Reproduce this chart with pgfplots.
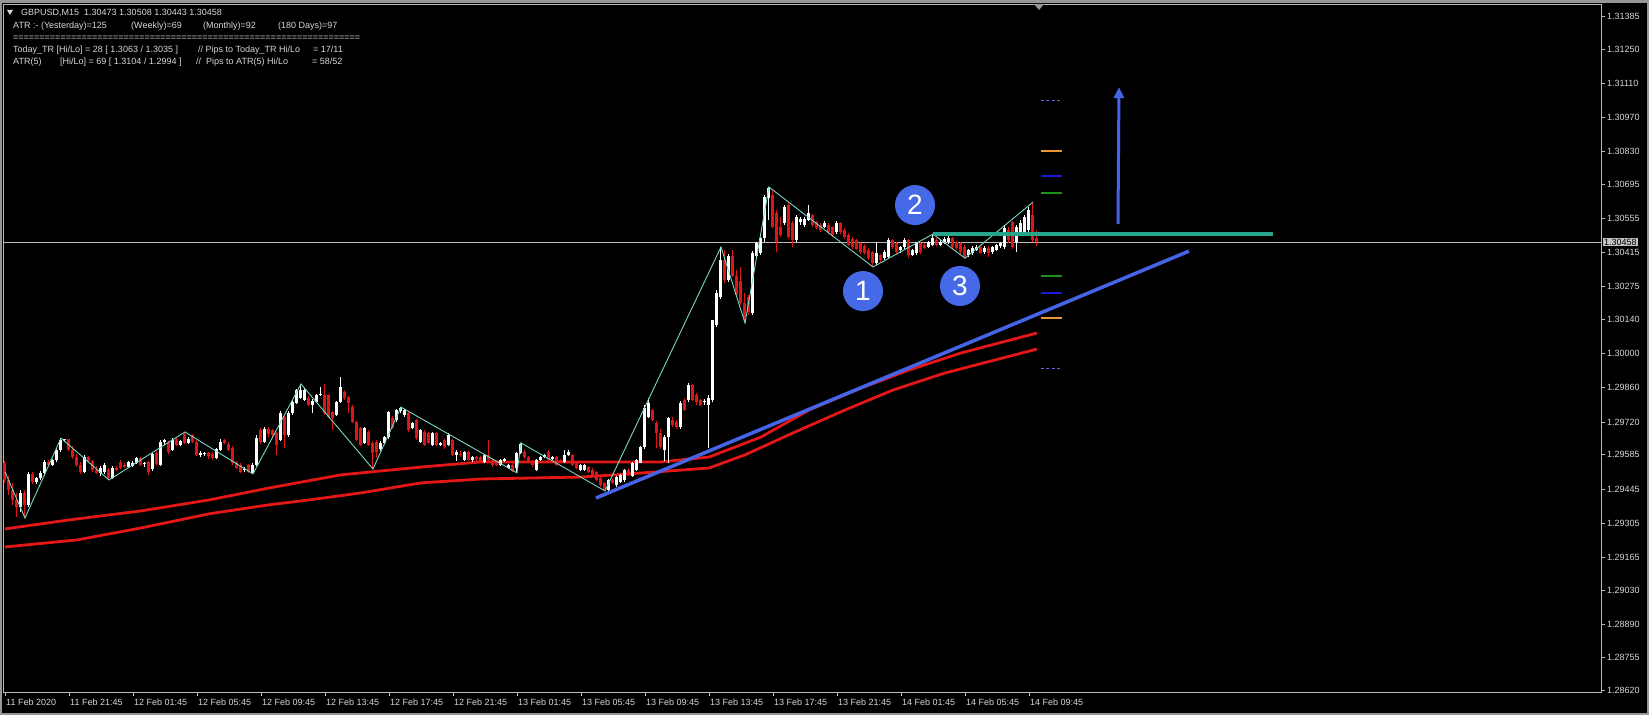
\documentclass[border=0pt]{standalone}
\usepackage{fontspec}
\setmainfont{Liberation Sans}
\usepackage{pgfplots}
\pgfplotsset{compat=1.18}
\usepackage{pgfplotstable}
\usetikzlibrary{arrows.meta}
\definecolor{bearred}{RGB}{222,22,22}
\definecolor{mared}{RGB}{228,22,22}
\definecolor{zz}{RGB}{120,215,195}
\definecolor{framec}{RGB}{185,185,185}
\definecolor{txt}{RGB}{215,215,215}
\definecolor{tlblue}{RGB}{70,100,232}
\definecolor{circblue}{RGB}{70,105,232}
\definecolor{tealc}{RGB}{38,165,140}
\definecolor{lvlorange}{RGB}{235,150,50}
\definecolor{lvlblue}{RGB}{25,25,215}
\definecolor{lvlgreen}{RGB}{30,145,30}
\definecolor{lvlpurple}{RGB}{125,90,225}
\definecolor{pricebox}{RGB}{195,195,195}
\definecolor{chrome}{RGB}{150,150,150}

\pgfplotstableread{
i o h l c
0 1.29552 1.29560 1.29470 1.29480
1 1.29480 1.29500 1.29420 1.29440
2 1.29440 1.29470 1.29380 1.29400
3 1.29400 1.29430 1.29330 1.29370
4 1.29370 1.29440 1.29350 1.29430
5 1.29430 1.29440 1.29326 1.29380
6 1.29380 1.29515 1.29370 1.29505
7 1.29505 1.29515 1.29465 1.29474
8 1.29474 1.29495 1.29465 1.29490
9 1.29490 1.29520 1.29480 1.29511
10 1.29511 1.29565 1.29500 1.29556
11 1.29556 1.29565 1.29535 1.29545
12 1.29545 1.29570 1.29540 1.29565
13 1.29565 1.29612 1.29555 1.29605
14 1.29605 1.29654 1.29598 1.29648
15 1.29645 1.29652 1.29636 1.29649
16 1.29649 1.29650 1.29600 1.29605
17 1.29605 1.29620 1.29570 1.29578
18 1.29578 1.29590 1.29535 1.29544
19 1.29544 1.29555 1.29505 1.29515
20 1.29515 1.29585 1.29510 1.29576
21 1.29576 1.29580 1.29550 1.29558
22 1.29558 1.29565 1.29515 1.29523
23 1.29523 1.29540 1.29505 1.29512
24 1.29512 1.29540 1.29500 1.29530
25 1.29515 1.29550 1.29505 1.29544
26 1.29523 1.29530 1.29482 1.29490
27 1.29490 1.29538 1.29486 1.29531
28 1.29531 1.29540 1.29518 1.29522
29 1.29556 1.29565 1.29525 1.29531
30 1.29544 1.29550 1.29530 1.29535
31 1.29535 1.29560 1.29530 1.29556
32 1.29540 1.29560 1.29535 1.29552
33 1.29552 1.29578 1.29548 1.29572
34 1.29572 1.29575 1.29540 1.29544
35 1.29546 1.29556 1.29536 1.29550
36 1.29556 1.29560 1.29503 1.29515
37 1.29527 1.29595 1.29520 1.29589
38 1.29593 1.29600 1.29540 1.29548
39 1.29544 1.29645 1.29540 1.29638
40 1.29638 1.29650 1.29625 1.29644
41 1.29634 1.29640 1.29590 1.29597
42 1.29605 1.29655 1.29600 1.29646
43 1.29650 1.29660 1.29620 1.29626
44 1.29626 1.29645 1.29620 1.29640
45 1.29670 1.29679 1.29628 1.29634
46 1.29634 1.29660 1.29628 1.29650
47 1.29667 1.29672 1.29632 1.29638
48 1.29638 1.29645 1.29580 1.29585
49 1.29585 1.29600 1.29575 1.29592
50 1.29589 1.29598 1.29580 1.29593
51 1.29591 1.29595 1.29570 1.29580
52 1.29589 1.29596 1.29565 1.29572
53 1.29572 1.29615 1.29568 1.29609
54 1.29605 1.29650 1.29600 1.29638
55 1.29646 1.29650 1.29628 1.29635
56 1.29630 1.29638 1.29600 1.29605
57 1.29613 1.29620 1.29545 1.29552
58 1.29556 1.29560 1.29525 1.29531
59 1.29544 1.29550 1.29510 1.29515
60 1.29522 1.29535 1.29515 1.29528
61 1.29544 1.29548 1.29512 1.29515
62 1.29511 1.29550 1.29507 1.29544
63 1.29544 1.29665 1.29540 1.29654
64 1.29687 1.29695 1.29630 1.29638
65 1.29638 1.29700 1.29635 1.29690
66 1.29690 1.29700 1.29660 1.29670
67 1.29687 1.29692 1.29660 1.29667
68 1.29675 1.29680 1.29585 1.29626
69 1.29646 1.29765 1.29640 1.29757
70 1.29740 1.29750 1.29613 1.29667
71 1.29667 1.29765 1.29660 1.29757
72 1.29757 1.29810 1.29750 1.29802
73 1.29798 1.29855 1.29795 1.29851
74 1.29820 1.29876 1.29815 1.29851
75 1.29810 1.29860 1.29805 1.29851
76 1.29818 1.29825 1.29785 1.29790
77 1.29790 1.29815 1.29757 1.29807
78 1.29802 1.29835 1.29798 1.29831
79 1.29831 1.29864 1.29825 1.29835
80 1.29831 1.29876 1.29750 1.29757
81 1.29831 1.29835 1.29735 1.29740
82 1.29761 1.29765 1.29687 1.29737
83 1.29749 1.29805 1.29745 1.29802
84 1.29802 1.29905 1.29798 1.29864
85 1.29843 1.29850 1.29812 1.29818
86 1.29822 1.29828 1.29757 1.29798
87 1.29781 1.29790 1.29715 1.29720
88 1.29720 1.29725 1.29640 1.29646
89 1.29695 1.29700 1.29620 1.29626
90 1.29634 1.29700 1.29630 1.29695
91 1.29679 1.29685 1.29620 1.29626
92 1.29634 1.29640 1.29527 1.29593
93 1.29638 1.29645 1.29572 1.29597
94 1.29610 1.29640 1.29600 1.29634
95 1.29634 1.29662 1.29625 1.29658
96 1.29658 1.29765 1.29650 1.29761
97 1.29736 1.29745 1.29690 1.29695
98 1.29728 1.29772 1.29720 1.29769
99 1.29765 1.29781 1.29755 1.29778
100 1.29749 1.29775 1.29740 1.29769
101 1.29757 1.29765 1.29680 1.29687
102 1.29695 1.29720 1.29690 1.29716
103 1.29728 1.29732 1.29646 1.29654
104 1.29638 1.29690 1.29632 1.29687
105 1.29679 1.29685 1.29620 1.29626
106 1.29675 1.29680 1.29630 1.29634
107 1.29626 1.29680 1.29620 1.29675
108 1.29675 1.29680 1.29622 1.29626
109 1.29626 1.29636 1.29620 1.29632
110 1.29646 1.29650 1.29610 1.29618
111 1.29626 1.29675 1.29620 1.29667
112 1.29646 1.29652 1.29580 1.29585
113 1.29585 1.29605 1.29560 1.29597
114 1.29590 1.29600 1.29575 1.29585
115 1.29564 1.29600 1.29558 1.29597
116 1.29597 1.29600 1.29560 1.29564
117 1.29564 1.29580 1.29555 1.29575
118 1.29575 1.29582 1.29560 1.29568
119 1.29576 1.29580 1.29550 1.29556
120 1.29556 1.29590 1.29552 1.29585
121 1.29585 1.29646 1.29560 1.29564
122 1.29564 1.29570 1.29535 1.29544
123 1.29552 1.29560 1.29540 1.29544
124 1.29544 1.29570 1.29540 1.29564
125 1.29560 1.29572 1.29555 1.29568
126 1.29531 1.29548 1.29525 1.29544
127 1.29544 1.29550 1.29515 1.29519
128 1.29531 1.29597 1.29511 1.29593
129 1.29593 1.29634 1.29590 1.29630
130 1.29597 1.29605 1.29570 1.29576
131 1.29576 1.29580 1.29555 1.29560
132 1.29560 1.29565 1.29535 1.29544
133 1.29523 1.29570 1.29520 1.29564
134 1.29564 1.29580 1.29560 1.29576
135 1.29576 1.29590 1.29572 1.29585
136 1.29597 1.29605 1.29560 1.29564
137 1.29568 1.29580 1.29562 1.29576
138 1.29576 1.29580 1.29540 1.29544
139 1.29564 1.29570 1.29555 1.29560
140 1.29556 1.29605 1.29550 1.29585
141 1.29585 1.29605 1.29580 1.29597
142 1.29585 1.29590 1.29540 1.29544
143 1.29556 1.29560 1.29525 1.29531
144 1.29523 1.29548 1.29518 1.29544
145 1.29523 1.29548 1.29520 1.29544
146 1.29535 1.29540 1.29510 1.29515
147 1.29523 1.29530 1.29500 1.29503
148 1.29515 1.29520 1.29478 1.29482
149 1.29490 1.29495 1.29455 1.29462
150 1.29470 1.29475 1.29437 1.29441
151 1.29441 1.29485 1.29437 1.29482
152 1.29482 1.29490 1.29465 1.29470
153 1.29460 1.29500 1.29455 1.29495
154 1.29475 1.29505 1.29470 1.29503
155 1.29480 1.29525 1.29474 1.29523
156 1.29523 1.29530 1.29500 1.29510
157 1.29500 1.29556 1.29495 1.29552
158 1.29523 1.29570 1.29520 1.29564
159 1.29552 1.29620 1.29550 1.29617
160 1.29617 1.29790 1.29610 1.29777
161 1.29740 1.29818 1.29735 1.29798
162 1.29769 1.29775 1.29725 1.29728
163 1.29716 1.29725 1.29613 1.29675
164 1.29675 1.29690 1.29610 1.29617
165 1.29605 1.29665 1.29560 1.29658
166 1.29658 1.29740 1.29552 1.29736
167 1.29728 1.29740 1.29700 1.29708
168 1.29720 1.29730 1.29690 1.29700
169 1.29700 1.29805 1.29690 1.29798
170 1.29810 1.29820 1.29765 1.29769
171 1.29810 1.29880 1.29800 1.29872
172 1.29872 1.29876 1.29805 1.29810
173 1.29830 1.29840 1.29790 1.29800
174 1.29810 1.29815 1.29785 1.29790
175 1.29800 1.29815 1.29790 1.29805
176 1.29790 1.29830 1.29613 1.29820
177 1.29810 1.30140 1.29800 1.30138
178 1.30118 1.30260 1.30110 1.30249
179 1.30233 1.30438 1.30225 1.30384
180 1.30384 1.30425 1.30290 1.30302
181 1.30302 1.30410 1.30295 1.30400
182 1.30400 1.30425 1.30315 1.30320
183 1.30320 1.30345 1.30235 1.30241
184 1.30300 1.30356 1.30200 1.30208
185 1.30208 1.30249 1.30126 1.30151
186 1.30233 1.30240 1.30160 1.30171
187 1.30167 1.30420 1.30160 1.30413
188 1.30400 1.30460 1.30390 1.30454
189 1.30413 1.30480 1.30405 1.30475
190 1.30475 1.30650 1.30460 1.30643
191 1.30640 1.30684 1.30549 1.30680
192 1.30651 1.30670 1.30515 1.30520
193 1.30577 1.30590 1.30417 1.30458
194 1.30520 1.30560 1.30480 1.30487
195 1.30536 1.30610 1.30530 1.30602
196 1.30610 1.30620 1.30470 1.30479
197 1.30536 1.30545 1.30438 1.30466
198 1.30466 1.30570 1.30460 1.30561
199 1.30540 1.30560 1.30530 1.30551
200 1.30528 1.30560 1.30520 1.30553
201 1.30549 1.30610 1.30545 1.30577
202 1.30569 1.30575 1.30520 1.30528
203 1.30540 1.30545 1.30510 1.30516
204 1.30528 1.30535 1.30500 1.30508
205 1.30520 1.30545 1.30515 1.30536
206 1.30528 1.30535 1.30490 1.30499
207 1.30520 1.30525 1.30480 1.30487
208 1.30499 1.30545 1.30490 1.30536
209 1.30536 1.30540 1.30490 1.30499
210 1.30508 1.30515 1.30470 1.30479
211 1.30487 1.30495 1.30440 1.30446
212 1.30470 1.30478 1.30430 1.30438
213 1.30466 1.30470 1.30425 1.30430
214 1.30454 1.30460 1.30410 1.30417
215 1.30440 1.30450 1.30405 1.30413
216 1.30425 1.30432 1.30385 1.30392
217 1.30417 1.30420 1.30356 1.30372
218 1.30372 1.30458 1.30365 1.30413
219 1.30405 1.30410 1.30378 1.30384
220 1.30392 1.30425 1.30385 1.30417
221 1.30397 1.30475 1.30390 1.30466
222 1.30466 1.30472 1.30430 1.30438
223 1.30454 1.30460 1.30410 1.30417
224 1.30425 1.30440 1.30415 1.30438
225 1.30438 1.30475 1.30430 1.30466
226 1.30466 1.30470 1.30392 1.30405
227 1.30405 1.30430 1.30400 1.30425
228 1.30413 1.30460 1.30405 1.30458
229 1.30454 1.30460 1.30410 1.30417
230 1.30446 1.30455 1.30430 1.30434
231 1.30438 1.30462 1.30432 1.30458
232 1.30446 1.30491 1.30440 1.30474
233 1.30466 1.30475 1.30440 1.30446
234 1.30446 1.30470 1.30440 1.30458
235 1.30458 1.30478 1.30450 1.30470
236 1.30458 1.30487 1.30450 1.30474
237 1.30474 1.30480 1.30430 1.30438
238 1.30458 1.30462 1.30425 1.30434
239 1.30454 1.30460 1.30410 1.30417
240 1.30438 1.30445 1.30392 1.30397
241 1.30405 1.30430 1.30398 1.30425
242 1.30413 1.30440 1.30405 1.30434
243 1.30425 1.30445 1.30420 1.30438
244 1.30438 1.30445 1.30410 1.30413
245 1.30417 1.30440 1.30410 1.30434
246 1.30434 1.30440 1.30397 1.30413
247 1.30417 1.30442 1.30410 1.30438
248 1.30425 1.30450 1.30420 1.30446
249 1.30440 1.30460 1.30435 1.30454
250 1.30438 1.30530 1.30430 1.30516
251 1.30508 1.30520 1.30455 1.30466
252 1.30540 1.30545 1.30430 1.30438
253 1.30458 1.30530 1.30417 1.30520
254 1.30495 1.30550 1.30490 1.30536
255 1.30495 1.30570 1.30490 1.30561
256 1.30508 1.30600 1.30500 1.30590
257 1.30569 1.30622 1.30460 1.30466
258 1.30473 1.30508 1.30443 1.30458
}\candles

\begin{document}
\begin{tikzpicture}[x=1pt,y=1pt]
\path[use as bounding box] (0,0) rectangle (1649,715);
\fill[chrome] (0,0) rectangle (1649,715);
\fill[black] (2,2) rectangle (1647,712);
\begin{axis}[
  at={(3pt,23pt)}, anchor=south west, scale only axis,
  width=1598pt, height=688pt,
  xmin=-0.5, xmax=399, ymin=1.28612, ymax=1.31435,
  axis background/.style={fill=black},
  axis line style={draw=framec, line width=0.8pt},
  tick style={draw=framec, line width=0.8pt},
  tick align=outside, major tick length=4pt,
  xtick pos=bottom, ytick pos=right, yticklabel pos=right,
  xtick={0,16,...,256},
  xticklabels={11 Feb 2020,11 Feb 21:45,12 Feb 01:45,12 Feb 05:45,12 Feb 09:45,12 Feb 13:45,12 Feb 17:45,12 Feb 21:45,13 Feb 01:45,13 Feb 05:45,13 Feb 09:45,13 Feb 13:45,13 Feb 17:45,13 Feb 21:45,14 Feb 01:45,14 Feb 05:45,14 Feb 09:45},
  ytick={1.31385,1.31250,1.31110,1.30970,1.30830,1.30695,1.30555,1.30415,1.30275,1.30140,1.30000,1.29860,1.29720,1.29585,1.29445,1.29305,1.29165,1.29030,1.28890,1.28755,1.28620},
  yticklabels={1.31385,1.31250,1.31110,1.30970,1.30830,1.30695,1.30555,1.30415,1.30275,1.30140,1.30000,1.29860,1.29720,1.29585,1.29445,1.29305,1.29165,1.29030,1.28890,1.28755,1.28620},
  ticklabel style={font=\fontsize{9}{10}\selectfont, text=txt},
  xticklabel style={anchor=north west, inner sep=0pt, xshift=1pt, yshift=-3pt},
  yticklabel style={anchor=west, inner sep=0pt, xshift=2pt},
  clip mode=individual,
]
% moving averages
\addplot[mared, line width=2.8pt, line join=round] coordinates {
(0,1.29281) (16,1.29318) (34,1.29355) (51,1.29400) (66,1.29449) (84,1.29503) (104,1.29535) (119,1.29556) (152,1.29556) (164,1.29556) (176,1.29576) (189,1.29658) (201,1.29769) (214,1.29859) (226,1.29933) (239,1.30003) (258,1.30085)};
\addplot[mared, line width=2.8pt, line join=round] coordinates {
(0,1.29207) (18,1.29236) (34,1.29285) (51,1.29343) (66,1.29380) (76,1.29400) (89,1.29429) (104,1.29470) (119,1.29486) (144,1.29494) (156,1.29507) (176,1.29531) (185,1.29585) (197,1.29675) (210,1.29769) (222,1.29851) (235,1.29921) (258,1.30019)};
% current price line
\addplot[framec, line width=0.8pt] coordinates {(-0.5,1.30458) (399,1.30458)};
% wicks
\addplot[draw=none, mark=none, restrict expr to domain={\thisrow{c}-\thisrow{o}}{0:1},
  error bars/.cd, y dir=plus, y explicit, error mark=none,
  error bar style={line width=1pt, draw=white}]
  table[x=i, y=l, y error expr=\thisrow{h}-\thisrow{l}] {\candles};
\addplot[draw=none, mark=none, restrict expr to domain={\thisrow{c}-\thisrow{o}}{-1:-0.000001},
  error bars/.cd, y dir=plus, y explicit, error mark=none,
  error bar style={line width=1pt, draw=bearred}]
  table[x=i, y=l, y error expr=\thisrow{h}-\thisrow{l}] {\candles};
% bodies
\addplot[draw=none, mark=none, restrict expr to domain={\thisrow{c}-\thisrow{o}}{0:1},
  error bars/.cd, y dir=plus, y explicit, error mark=none,
  error bar style={line width=3pt, draw=white}]
  table[x=i, y=o, y error expr=\thisrow{c}-\thisrow{o}] {\candles};
\addplot[draw=none, mark=none, restrict expr to domain={\thisrow{c}-\thisrow{o}}{-1:-0.000001},
  error bars/.cd, y dir=plus, y explicit, error mark=none,
  error bar style={line width=3pt, draw=bearred}]
  table[x=i, y=c, y error expr=\thisrow{o}-\thisrow{c}] {\candles};
% zigzag
\addplot[zz, line width=0.9pt] coordinates {
(0,1.29515) (5,1.29326) (14,1.29654) (26,1.29482) (45,1.29679) (62,1.29507) (74,1.29876) (92,1.29527) (99,1.29781) (128,1.29511) (129,1.29634) (150,1.29437) (179,1.30438) (185,1.30126) (191,1.30684) (217,1.30356) (232,1.30491) (240,1.30392) (257,1.30622)};
% teal level
\addplot[tealc, line width=4pt] coordinates {(232,1.30491) (317,1.30491)};
% trend line
\addplot[tlblue, line width=3.5pt] coordinates {(147.75,1.29408) (296,1.30421)};
% arrow
\addplot[tlblue, line width=3pt, -{Triangle[width=10pt,length=11pt]}] coordinates {(278.25,1.30532) (278.5,1.31094)};
% ATR levels
\addplot[lvlpurple, line width=1pt, dash pattern=on 3pt off 2.5pt] coordinates {(259,1.31037) (264.25,1.31037)};
\addplot[lvlorange, line width=2pt] coordinates {(259,1.30832) (264.25,1.30832)};
\addplot[lvlblue, line width=2pt] coordinates {(259,1.30729) (264.25,1.30729)};
\addplot[lvlgreen, line width=2pt] coordinates {(259,1.30659) (264.25,1.30659)};
\addplot[lvlgreen, line width=2pt] coordinates {(259,1.30319) (264.25,1.30319)};
\addplot[lvlblue, line width=2pt] coordinates {(259,1.30249) (264.25,1.30249)};
\addplot[lvlorange, line width=2pt] coordinates {(259,1.30147) (264.25,1.30147)};
\addplot[lvlpurple, line width=1pt, dash pattern=on 3pt off 2.5pt] coordinates {(259,1.29941) (264.25,1.29941)};
% numbered circles
\node[circle, fill=circblue, minimum size=40pt, inner sep=0pt, text=white, font=\fontsize{28}{28}\selectfont] at (axis cs:214.5,1.30257) {1};
\node[circle, fill=circblue, minimum size=40pt, inner sep=0pt, text=white, font=\fontsize{28}{28}\selectfont] at (axis cs:227.5,1.30610) {2};
\node[circle, fill=circblue, minimum size=40pt, inner sep=0pt, text=white, font=\fontsize{28}{28}\selectfont] at (axis cs:238.75,1.30278) {3};
% price box
\node[fill=pricebox, text=black, inner sep=1pt, anchor=west, xshift=2pt, font=\fontsize{9}{10}\selectfont] at (axis cs:399,1.30458) {1.30458};
\end{axis}
% chart shift marker
\fill[chrome] (1034,711) -- (1044,711) -- (1039,705) -- cycle;
% info text
\fill[txt] (7,705) -- (13,705) -- (10,700) -- cycle;
\begin{scope}[every node/.style={anchor=west, inner sep=0pt, text=txt, font=\fontsize{9}{10}\selectfont, text height=7pt, text depth=2pt}]
\node at (21,702) {GBPUSD,M15\ \ 1.30473 1.30508 1.30443 1.30458};
\node at (13,689) {ATR :- (Yesterday)=125};
\node at (131,689) {(Weekly)=69};
\node at (203,689) {(Monthly)=92};
\node at (278,689) {(180 Days)=97};
\node at (13,677) {==================================================================};
\node at (13,665) {Today\_TR [Hi/Lo] = 28 [ 1.3063 / 1.3035 ]};
\node at (198,665) {// Pips to Today\_TR Hi/Lo};
\node at (313,665) {= 17/11};
\node at (13,653) {ATR(5)};
\node at (60,653) {[Hi/Lo] = 69 [ 1.3104 / 1.2994 ]};
\node at (196,653) {//\ \ Pips to ATR(5) Hi/Lo};
\node at (312,653) {= 58/52};
\end{scope}
\end{tikzpicture}
\end{document}
